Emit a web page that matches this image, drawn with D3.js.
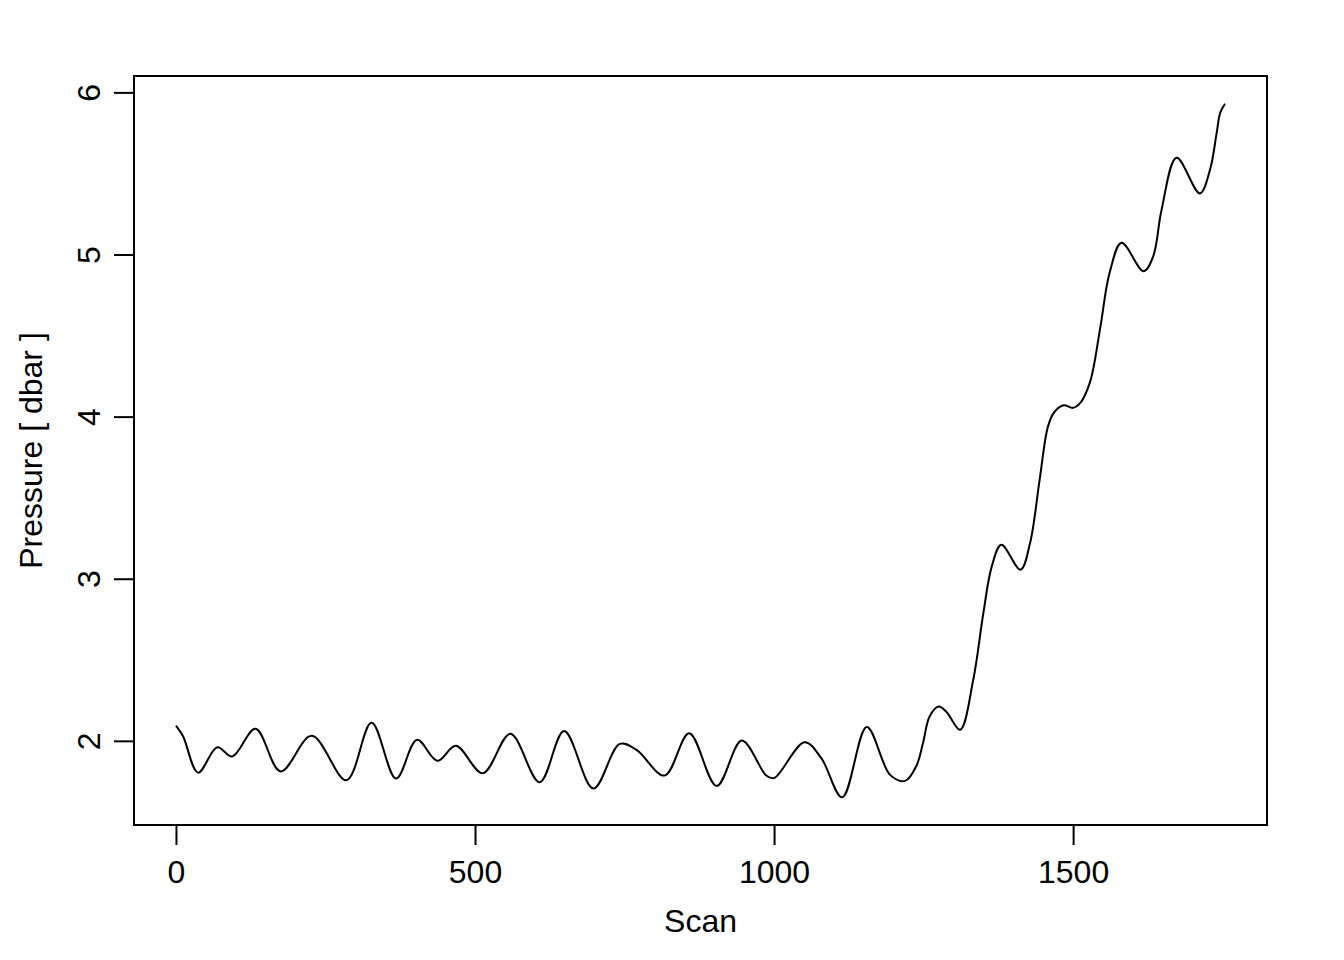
<!DOCTYPE html>
<html lang="en">
<head>
  <meta charset="UTF-8" />
  <title>Pressure vs Scan</title>
  <script src="https://d3js.org/d3.v7.min.js"></script>
  <style>
    body {
      margin: 0;
      background: #fff;
    }
    svg text {
      font-family: 'Liberation Sans', Arial, sans-serif;
      font-size: 32px;
      fill: #000;
    }
  </style>
</head>
<body>

<svg width="1344" height="960"></svg>

<script>
// values
const scans = [0, 12, 37, 69, 94, 133, 175, 227, 285, 327, 368, 403, 437, 468, 513, 559, 608, 649, 698, 742, 770,
  817, 858, 904, 946, 987, 1000, 1051, 1079, 1114, 1155, 1194, 1219, 1238, 1249, 1260, 1275, 1288, 1311, 1333, 1350, 1364, 1380,
  1412, 1428, 1444, 1458, 1469, 1484, 1500, 1511, 1528, 1545, 1561, 1581, 1618, 1634, 1648, 1673, 1712, 1729, 1740, 1746, 1754];
const pressures = [2.094, 2.027, 1.804, 1.961, 1.903, 2.074, 1.811, 2.031, 1.757, 2.111, 1.767, 2.006, 1.877, 1.969, 1.80, 2.043, 1.745, 2.06, 1.706, 1.981, 1.944,
  1.786, 2.047, 1.722, 2.002, 1.786, 1.77, 1.992, 1.893, 1.652, 2.085, 1.79, 1.753, 1.846, 1.986, 2.15, 2.212, 2.18, 2.068, 2.377, 2.79, 3.076, 3.21,
  3.056, 3.22, 3.61, 3.94, 4.03, 4.07, 4.054, 4.08, 4.21, 4.54, 4.887, 5.072, 4.897, 4.99, 5.278, 5.597, 5.377, 5.525, 5.75, 5.875, 5.93];
const xTicks = [0, 500, 1000, 1500];
const yTicks = [2, 3, 4, 5, 6];

const data = scans.map((s, i) => ({ scan: s, p: pressures[i] }));

const svg = d3.select("svg");
const plotL = 134, plotR = 1267, plotT = 76, plotB = 825;

// R style 4% padding on each side
function padded(ext) {
  const d = (ext[1] - ext[0]) * 0.04;
  return [ext[0] - d, ext[1] + d];
}

const x = d3.scaleLinear().domain(padded(d3.extent(scans))).range([plotL, plotR]);
const y = d3.scaleLinear().domain(padded(d3.extent(pressures))).range([plotB, plotT]);

const line = d3.line()
  .x(d => x(d.scan))
  .y(d => y(d.p))
  .curve(d3.curveCatmullRom.alpha(0.5));

svg.append("path")
  .datum(data)
  .attr("d", line)
  .attr("fill", "none")
  .attr("stroke", "#000")
  .attr("stroke-width", 2);

// box
svg.append("rect")
  .attr("x", plotL).attr("y", plotT)
  .attr("width", plotR - plotL).attr("height", plotB - plotT)
  .attr("fill", "none").attr("stroke", "#000").attr("stroke-width", 2);

// x axis
const xAxis = svg.append("g")
  .attr("transform", `translate(0,${plotB})`)
  .call(d3.axisBottom(x).tickValues(xTicks).tickSize(20).tickSizeOuter(0).tickFormat(d3.format("d")));
xAxis.select(".domain")
  .attr("d", `M${x(xTicks[0])},0H${x(xTicks[xTicks.length - 1])}`)
  .attr("stroke-width", 2);
xAxis.selectAll(".tick line").attr("stroke-width", 2);
xAxis.selectAll(".tick text")
  .attr("y", 58).attr("dy", null)
  .style("font-size", "32px").style("font-family", "'Liberation Sans', Arial, sans-serif");

// y axis
const yAxis = svg.append("g")
  .attr("transform", `translate(${plotL},0)`)
  .call(d3.axisLeft(y).tickValues(yTicks).tickSize(20).tickSizeOuter(0).tickFormat(d3.format("d")));
yAxis.select(".domain")
  .attr("d", `M0,${y(yTicks[0])}V${y(yTicks[yTicks.length - 1])}`)
  .attr("stroke-width", 2);
yAxis.selectAll(".tick line").attr("stroke-width", 2);
yAxis.selectAll(".tick text")
  .attr("x", null).attr("dy", null)
  .attr("text-anchor", "middle")
  .attr("transform", "translate(-34,0) rotate(-90)")
  .style("font-size", "32px").style("font-family", "'Liberation Sans', Arial, sans-serif");

// axis titles
svg.append("text")
  .attr("x", (plotL + plotR) / 2)
  .attr("y", 932)
  .attr("text-anchor", "middle")
  .text("Scan");

svg.append("text")
  .attr("transform", `translate(42,${(plotT + plotB) / 2}) rotate(-90)`)
  .attr("text-anchor", "middle")
  .text("Pressure [ dbar ]");
</script>

</body>
</html>
